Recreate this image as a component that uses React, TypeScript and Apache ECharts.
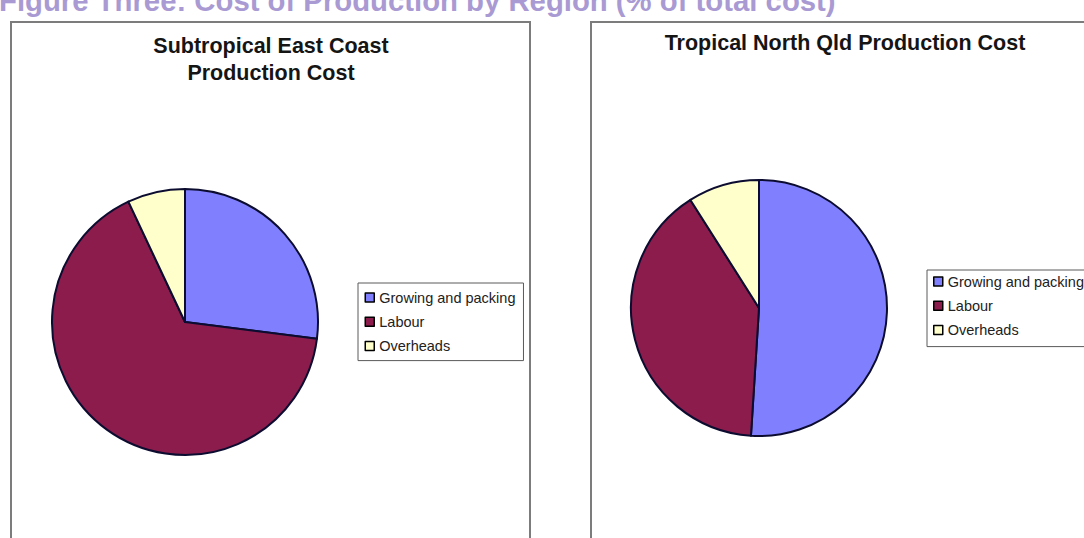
import React, { useEffect, useRef } from "react";
import * as echarts from "echarts";

const categories = ["Growing and packing", "Labour", "Overheads"];
const subtropicalValues = [27, 66, 7];
const tropicalValues = [51, 40, 9];
const sliceColors = ["#8080ff", "#8b1c4b", "#ffffcc"];
const mainTitle = "Figure Three: Cost of Production by Region (% of total cost)";
const leftTitleLines = ["Subtropical East Coast", "Production Cost"];
const rightTitle = "Tropical North Qld Production Cost";

export default function App() {
  const ref = useRef<HTMLDivElement>(null);
  useEffect(() => {
    const chart = echarts.init(ref.current!, null, { renderer: "svg" });
    const font = "'Liberation Sans', Arial, Helvetica, sans-serif";
    const mkData = (vals: number[]) =>
      categories.map((name, i) => ({ name, value: vals[i], itemStyle: { color: sliceColors[i] } }));
    const pieBase: any = {
      type: "pie",
      startAngle: 90,
      clockwise: true,
      label: { show: false },
      labelLine: { show: false },
      emphasis: { disabled: true },
      silent: true,
      itemStyle: { borderColor: "#0c0c30", borderWidth: 2 },
    };
    const legendBase: any = {
      orient: "vertical",
      icon: "rect",
      itemWidth: 9,
      itemHeight: 9,
      itemGap: 9.3,
      borderColor: "#5a5a5a",
      borderWidth: 1,
      backgroundColor: "#fff",
      textStyle: { fontFamily: font, fontSize: 14.5, lineHeight: 15, color: "#222" },
      itemStyle: { borderColor: "#000", borderWidth: 1.5 },
      selectedMode: false,
      data: categories,
    };
    const titleStyle = (text: string, x: number, y: number) => ({
      type: "text",
      x,
      y,
      silent: true,
      style: {
        text,
        fill: "#151515",
        fontFamily: font,
        fontSize: 21.5,
        fontWeight: "bold",
        align: "center",
        verticalAlign: "middle",
      },
    });
    chart.setOption({
      animation: false,
      backgroundColor: "#fff",
      graphic: [
        {
          type: "text",
          x: -1,
          y: 0,
          silent: true,
          style: {
            text: mainTitle,
            fill: "#a99ad3",
            fontFamily: font,
            fontSize: 29.3,
            fontWeight: "bold",
            align: "left",
            verticalAlign: "middle",
          },
        },
        {
          type: "rect",
          silent: true,
          shape: { x: 11, y: 22, width: 519, height: 560 },
          style: { fill: "none", stroke: "#7c7c7c", lineWidth: 2 },
        },
        {
          type: "rect",
          silent: true,
          shape: { x: 591, y: 22, width: 560, height: 560 },
          style: { fill: "none", stroke: "#7c7c7c", lineWidth: 2 },
        },
        titleStyle(leftTitleLines[0], 271, 46),
        titleStyle(leftTitleLines[1], 271, 73),
        titleStyle(rightTitle, 845, 43),
      ],
      legend: [
        { ...legendBase, left: 358, top: 283, padding: [7, 8, 7, 6.5] },
        { ...legendBase, left: 927, top: 270, padding: [4, 8, 9, 6] },
      ],
      series: [
        { ...pieBase, center: [185, 322], radius: 133, data: mkData(subtropicalValues) },
        { ...pieBase, center: [759, 308], radius: 128, data: mkData(tropicalValues) },
      ],
    });
    return () => chart.dispose();
  }, []);
  return <div ref={ref} style={{ position: "fixed", left: 0, top: 0, width: 1084, height: 538 }} />;
}
